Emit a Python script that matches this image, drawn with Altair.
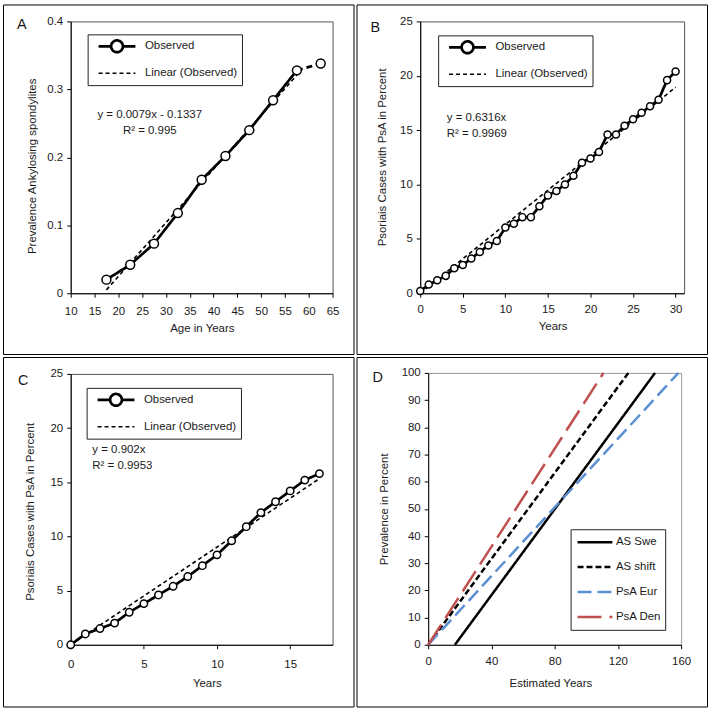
import altair as alt
import pandas as pd

FONT = "Liberation Sans"
TXT = "#1a1a1a"

# ---------------- data ----------------
legend_labels = ["Observed", "Linear (Observed)"]

# Panel A
a_age = [17.5, 22.5, 27.5, 32.5, 37.5, 42.5, 47.5, 52.5, 57.5, 62.5]
a_prev = [0.020, 0.042, 0.073, 0.118, 0.167, 0.202, 0.240, 0.284, 0.328, 0.338]
a_trend_x = [17.5, 57.5]
a_trend_y = [0.005, 0.321]
a_eq = "y = 0.0079x - 0.1337\nR² = 0.995"
a_eq_pos = [26.6, 0.258]
a_xticks = [10, 15, 20, 25, 30, 35, 40, 45, 50, 55, 60, 65]
a_yticks = [0, 0.1, 0.2, 0.3, 0.4]

# Panel B
b_years = list(range(31))
b_pct = [0.2, 0.8, 1.2, 1.6, 2.3, 2.6, 3.2, 3.8, 4.4, 4.8, 6.05, 6.4, 7.0, 7.0, 8.0,
         9.0, 9.4, 10.0, 10.8, 12.0, 12.4, 13.0, 14.6, 14.6, 15.4, 16.0, 16.6, 17.2,
         17.8, 19.6, 20.4]
b_trend_x = [0, 30]
b_trend_y = [0, 18.95]
b_eq = "y = 0.6316x\nR² = 0.9969"
b_eq_pos = [3.12, 15.83]
b_xticks = [0, 5, 10, 15, 20, 25, 30]
b_yticks = [0, 5, 10, 15, 20, 25]

# Panel C
c_years = list(range(18))
c_pct = [0, 1.0, 1.5, 2.0, 3.0, 3.8, 4.6, 5.4, 6.3, 7.3, 8.3, 9.6, 10.9, 12.2, 13.2,
         14.2, 15.2, 15.8]
c_trend_x = [0, 17]
c_trend_y = [0, 15.33]
c_eq = "y = 0.902x\nR² = 0.9953"
c_eq_pos = [1.48, 17.67]
c_xticks = [0, 5, 10, 15]
c_yticks = [0, 5, 10, 15, 20, 25]

# Panel D
d_series = ["AS Swe", "AS shift", "PsA Eur", "PsA Den"]
d_x0 = [16.9, 0, 0, 0]
d_x1 = [143.5, 126.6, 158.3, 110.9]
d_y0 = [0, 0, 0, 0]
d_y1 = [100, 100, 100, 100]
d_colors = ["#000000", "#000000", "#5B8FD3", "#C0504D"]
d_dashes = [[1, 0], [6, 3], [14, 6], [24, 8]]
d_xticks = [0, 40, 80, 120, 160]
d_yticks = [0, 10, 20, 30, 40, 50, 60, 70, 80, 90, 100]

SYM_PATH = ("M-1,0L-0.32,0M0.32,0L1,0M-0.32,0A0.32,0.32,0,1,0,0.32,0"
            "A0.32,0.32,0,1,0,-0.32,0Z")


def frame(left, top, w=352, h=351):
    return alt.Chart(pd.DataFrame({"f": [0]})).mark_rect(
        filled=False, stroke="black", strokeWidth=1
    ).encode(x=alt.value(-left), x2=alt.value(w - left),
             y=alt.value(-top), y2=alt.value(h - top))


def letter(ch, dx, dy):
    return alt.Chart(pd.DataFrame({"t": [ch]})).mark_text(
        font=FONT, fontSize=14.5, align="left", baseline="alphabetic", color=TXT
    ).encode(x=alt.value(dx), y=alt.value(dy), text="t:N")


def axis_x(vals, title, tx, ty, pad):
    return alt.Axis(values=vals, title=title, titleX=tx, titleY=ty,
                    titleBaseline="middle", titleAlign="center", labelPadding=pad)


def axis_y(vals, title, tx, ty, fmt=None):
    kw = dict(values=vals, title=title, titleX=tx, titleY=ty, titleBaseline="middle",
              titleAlign="center", titleAngle=270, labelPadding=4)
    if fmt:
        kw["format"] = fmt
    return alt.Axis(**kw)


def obs_legend(lx, ly, pad_spaces):
    return alt.Legend(
        title=None, orient="none", legendX=lx, legendY=ly, direction="vertical",
        symbolType=alt.ExprRef(expr="datum.value === 'Observed' ? '" + SYM_PATH + "' : 'stroke'"),
        symbolSize=1369, symbolStrokeColor="black", symbolOffset=5.5, labelOffset=8,
        padding=4, clipHeight=16, rowPadding=11, strokeColor="#222", fillColor="white",
        labelFont=FONT, labelFontSize=11.5, labelColor=TXT, labelLimit=400,
        labelExpr="datum.label + '" + " " * pad_spaces + "'")


def obs_panel(ch, xs, ys, tx, ty, eq_text, eq_pos, eq_align, xdom, xvals, ydom, yvals,
              yfmt, xtitle, ytitle, w, h, left, top, xt, yt, xpad, leg, let_xy, msize,
              solid_n):
    obs = pd.DataFrame({"x": xs, "y": ys, "series": legend_labels[0]})
    trd = pd.DataFrame({"x": tx, "y": ty, "series": legend_labels[1]})
    eq = pd.DataFrame({"x": [eq_pos[0]], "y": [eq_pos[1]], "t": [eq_text]})
    xenc = alt.X("x:Q", scale=alt.Scale(domain=xdom, nice=False, zero=False),
                 axis=axis_x(xvals, xtitle, xt[0], xt[1], xpad))
    yenc = alt.Y("y:Q", scale=alt.Scale(domain=ydom, nice=False, zero=False),
                 axis=axis_y(yvals, ytitle, yt[0], yt[1], yfmt))
    L = obs_legend(*leg)
    dash = alt.StrokeDash("series:N", scale=alt.Scale(domain=legend_labels,
                                                      range=[[1, 0], [4, 3]]), legend=L)
    sw = alt.StrokeWidth("series:N", scale=alt.Scale(type="point", padding=0,
                                                     domain=legend_labels,
                                                     range=[2.7, 1.6]), legend=L)
    layers = [frame(left, top), letter(ch, *let_xy)]
    layers.append(alt.Chart(trd).mark_line(color="black").encode(
        x=xenc, y=yenc, strokeDash=dash, strokeWidth=sw))
    layers.append(alt.Chart(obs.iloc[:solid_n]).mark_line(color="black").encode(
        x=xenc, y=yenc, strokeDash=dash, strokeWidth=sw))
    if solid_n < len(obs):
        layers.append(alt.Chart(obs.iloc[solid_n - 1:]).mark_line(
            color="black", strokeDash=[6, 4], strokeWidth=2.7).encode(x=xenc, y=yenc))
    layers.append(alt.Chart(obs).mark_point(
        shape="circle", filled=True, fill="white", stroke="black", strokeWidth=1.5,
        size=msize, opacity=1).encode(x=xenc, y=yenc))
    layers.append(alt.Chart(eq).mark_text(
        font=FONT, fontSize=11.5, color=TXT, align=eq_align, baseline="alphabetic",
        lineBreak="\n", lineHeight=16).encode(x=xenc, y=yenc, text="t:N"))
    return alt.layer(*layers).properties(
        width=w, height=h, view=alt.ViewBackground(stroke="#555", strokeWidth=1))


pa = obs_panel("A", a_age, a_prev, a_trend_x, a_trend_y, a_eq, a_eq_pos, "center",
               [10, 65], a_xticks, [0, 0.4], a_yticks, "~g",
               "Age in Years", "Prevalence Ankylosing spondylites",
               263, 273, 67.5, 16.5, (131.7, 35), (-38, 145), 8, (17, 13, 4),
               (-54, 8), 80, 9)

pb = obs_panel("B", b_years, b_pct, b_trend_x, b_trend_y, b_eq, b_eq_pos, "left",
               [0, 31], b_xticks, [0, 25], b_yticks, None,
               "Years", "Psoriais Cases with PsA in Percent",
               265, 273, 63.5, 16.5, (133, 33), (-38, 136), 6, (18, 14, 5),
               (-50, 11), 50, 31)

pc = obs_panel("C", c_years, c_pct, c_trend_x, c_trend_y, c_eq, c_eq_pos, "left",
               [0, 17.9], c_xticks, [0, 25], c_yticks, None,
               "Years", "Psoriais Cases with PsA in Percent",
               263, 272, 67.5, 16.5, (136.7, 38.7), (-40, 138), 9.5, (16, 14, 4),
               (-53, 10.7), 55, 18)

# Panel D
d_rows = []
for s, x0, x1, y0, y1 in zip(d_series, d_x0, d_x1, d_y0, d_y1):
    d_rows.append({"series": s, "x": x0, "y": y0})
    d_rows.append({"series": s, "x": x1, "y": y1})
d_df = pd.DataFrame(d_rows)

LD = alt.Legend(title=None, orient="none", legendX=143, legendY=157, direction="vertical",
                symbolType="stroke", symbolSize=1225, symbolStrokeWidth=2.5,
                symbolOffset=1.5, labelOffset=2, padding=4, clipHeight=18, rowPadding=7,
                strokeColor="#222", fillColor="white", labelFont=FONT,
                labelFontSize=11.5, labelColor=TXT, labelLimit=400,
                labelExpr="datum.label + '  '")
dx = alt.X("x:Q", scale=alt.Scale(domain=[0, 160], nice=False, zero=False),
           axis=axis_x(d_xticks, "Estimated Years", 122.7, 39, 6.5))
dy = alt.Y("y:Q", scale=alt.Scale(domain=[0, 100], nice=False, zero=False),
           axis=axis_y(d_yticks, "Prevalence in Percent", -44, 136.5))
d_lines = alt.Chart(d_df).mark_line(strokeWidth=2.5).encode(
    x=dx, y=dy,
    color=alt.Color("series:N", scale=alt.Scale(domain=d_series, range=d_colors), legend=LD),
    strokeDash=alt.StrokeDash("series:N", scale=alt.Scale(domain=d_series, range=d_dashes),
                              legend=LD),
)
pd_ = alt.layer(frame(71.5, 15.5), letter("D", -56, 9), d_lines).properties(
    width=254, height=273, view=alt.ViewBackground(stroke="#999", strokeWidth=1))

chart = alt.concat(pa, pb, pc, pd_, columns=2, spacing=0, align="none").resolve_scale(
    strokeDash="independent", strokeWidth="independent", color="independent"
).properties(
    padding={"left": 2, "top": 2, "right": 0, "bottom": 0}, background="white"
).configure_axis(
    labelFont=FONT, labelFontSize=11.5, labelColor=TXT, titleFont=FONT,
    titleFontSize=11.5, titleFontWeight="normal", titleColor=TXT, domainColor="black",
    domainWidth=1, tickColor="black", tickSize=4, tickWidth=1, grid=False,
    labelFlush=False, labelOverlap=False
)

chart.save("out.html", embed_options={"renderer": "svg", "actions": False})
